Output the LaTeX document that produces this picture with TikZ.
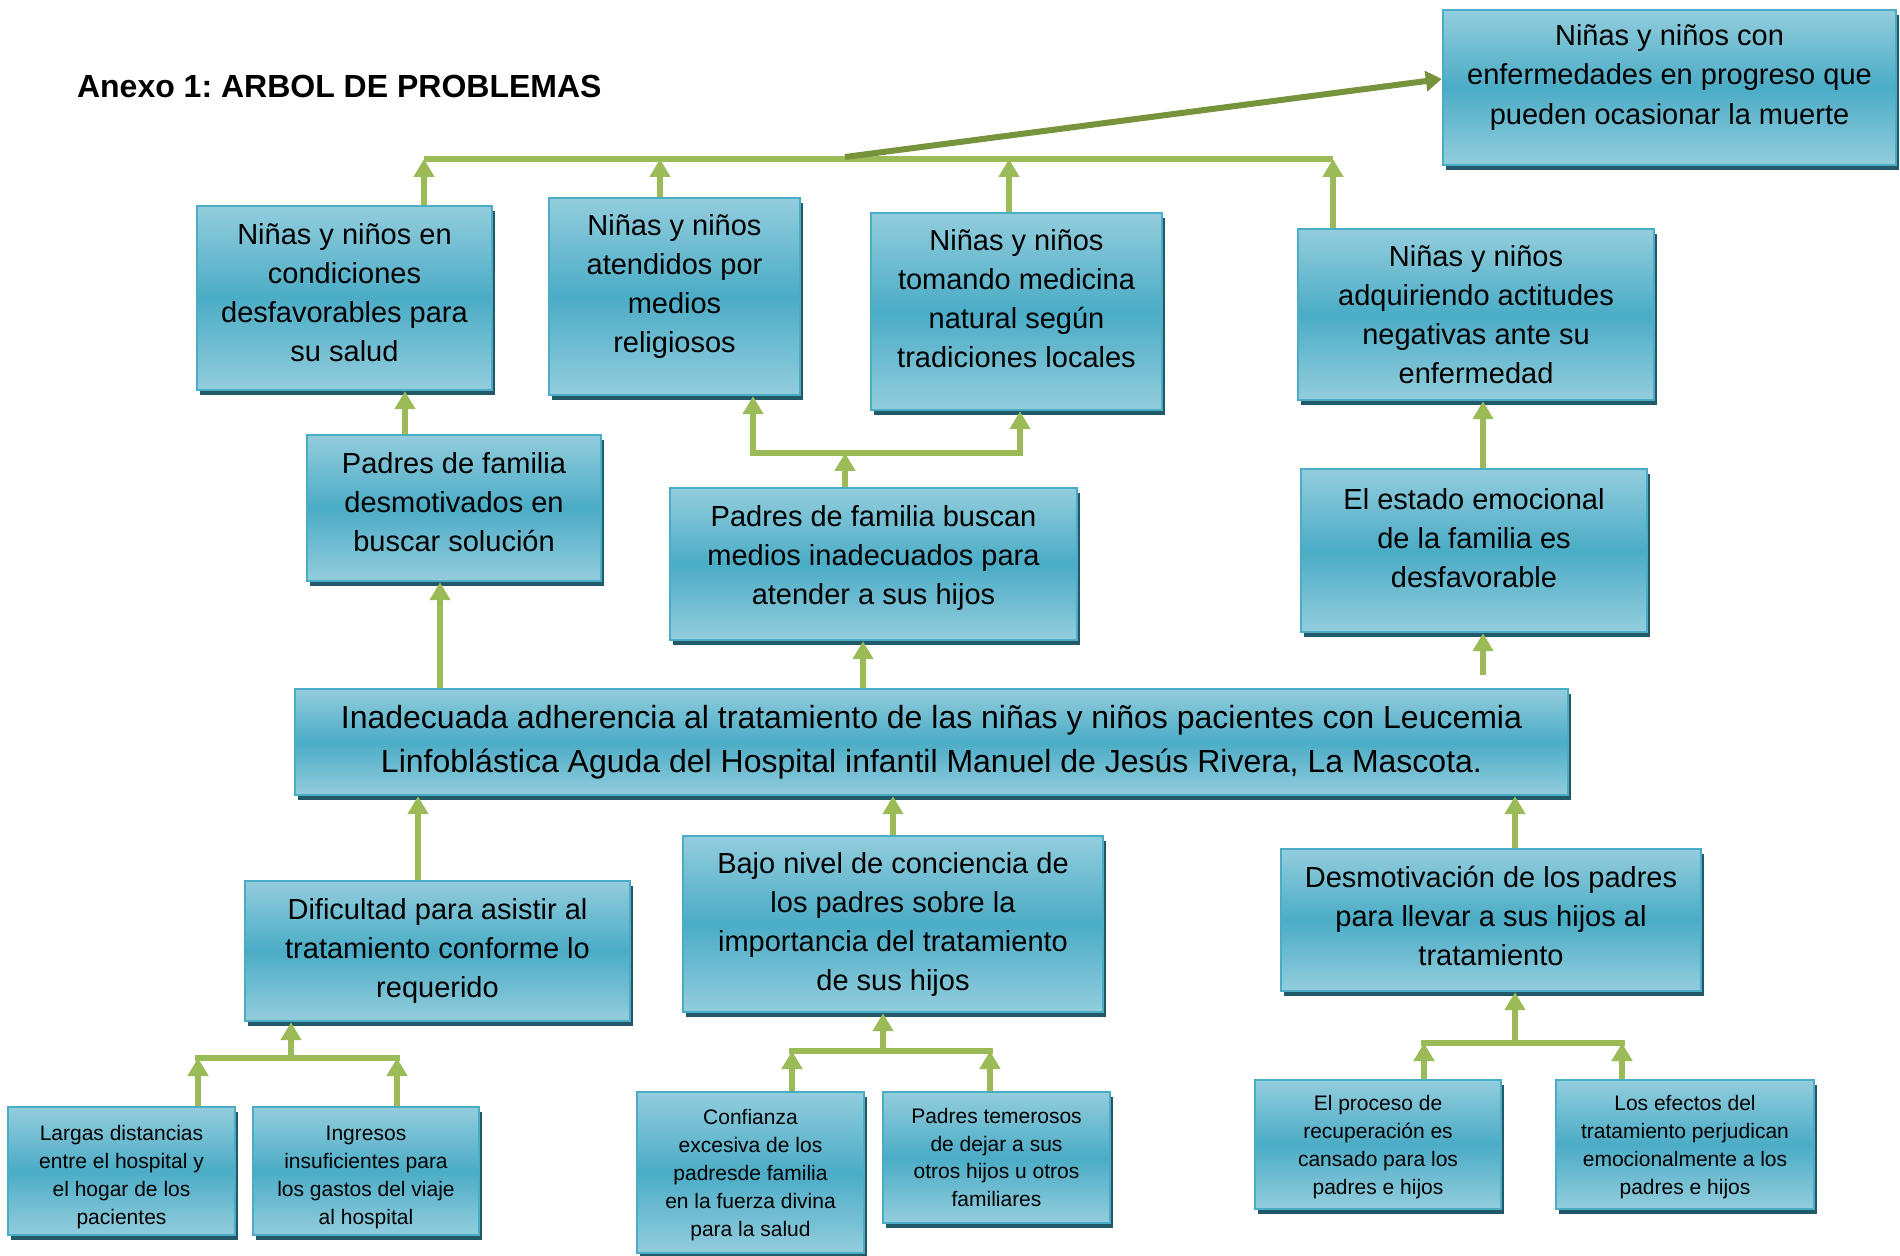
\documentclass[tikz,border=0pt]{standalone}
\usepackage{fontspec}
\setmainfont{Liberation Sans}
\usetikzlibrary{arrows.meta,shadows}
\definecolor{boxtop}{HTML}{93CDDD}
\definecolor{boxmid}{HTML}{4BACC6}
\definecolor{boxedge}{HTML}{4BACC6}
\definecolor{shadowc}{HTML}{215968}
\definecolor{arrgreen}{HTML}{9BBB59}
\definecolor{darkgreen}{HTML}{77933C}
\begin{document}
\frenchspacing
\begin{tikzpicture}[x=0.5pt,y=-0.5pt,
 box/.style={draw=boxedge, line width=1.2pt, top color=boxtop, bottom color=boxtop, middle color=boxmid,
   inner sep=0pt, align=center, text=black,
   drop shadow={shadow xshift=1.5pt, shadow yshift=-2.5pt, fill=shadowc, opacity=1}},
 midtxt/.style={font=\fontsize{14.5}{19.5}\selectfont},
 smalltxt/.style={font=\fontsize{10.5}{13.9}\selectfont},
 bigtxt/.style={font=\fontsize{16}{21.8}\selectfont},
 ln/.style={draw=arrgreen, line width=3pt},
 arr/.style={ln, -{Triangle[width=10pt,length=9pt]}},
 darr/.style={draw=darkgreen, line width=3pt, -{Triangle[width=10pt,length=8pt]}},
]
\useasboundingbox (0,0) rectangle (1900,1256);

\node[anchor=base west, font=\bfseries\fontsize{16}{19}\selectfont] (title) at (70,98) {Anexo 1: ARBOL DE PROBLEMAS};

% effects
\node[box, midtxt, minimum width=226.5pt, minimum height=77.5pt] (B1) at (1669.5,87.5)
  {Niñas y niños con\\enfermedades en progreso que\\pueden ocasionar la muerte\\[-6.5pt]\mbox{}};
\node[box, midtxt, minimum width=147.5pt, minimum height=92pt] (B2) at (344.5,298)
  {Niñas y niños en\\condiciones\\desfavorables para\\su salud\\[-13.5pt]\mbox{}};
\node[box, midtxt, minimum width=125.5pt, minimum height=98.5pt] (B3) at (674.5,296.5)
  {Niñas y niños\\atendidos por\\medios\\religiosos\\[-6.5pt]\mbox{}};
\node[box, midtxt, minimum width=145.5pt, minimum height=98.5pt] (B4) at (1016.5,311.5)
  {Niñas y niños\\tomando medicina\\natural según\\tradiciones locales\\[-6.5pt]\mbox{}};
\node[box, midtxt, minimum width=178pt, minimum height=85.5pt] (B5) at (1476,314.5)
  {Niñas y niños\\adquiriendo actitudes\\negativas ante su\\enfermedad};
\node[box, midtxt, minimum width=147pt, minimum height=73pt] (B6) at (454,508)
  {Padres de familia\\desmotivados en\\buscar solución\\[-13.5pt]\mbox{}};
\node[box, midtxt, minimum width=203.5pt, minimum height=76pt] (B7) at (873.5,564)
  {Padres de familia buscan\\medios inadecuados para\\atender a sus hijos\\[-10.5pt]\mbox{}};
\node[box, midtxt, minimum width=173pt, minimum height=81.5pt] (B8) at (1474,550.5)
  {El estado emocional\\de la familia es\\desfavorable\\[-6.5pt]\mbox{}};

% central problem
\node[box, bigtxt, minimum width=636.5pt, minimum height=53pt] (B9) at (931.5,742)
  {Inadecuada adherencia al tratamiento de las niñas y niños pacientes con Leucemia\\Linfoblástica Aguda del Hospital infantil Manuel de Jesús Rivera, La Mascota.};

% causes
\node[box, midtxt, minimum width=192.5pt, minimum height=70pt] (B10) at (437.5,951)
  {Dificultad para asistir al\\tratamiento conforme lo\\requerido};
\node[box, midtxt, minimum width=210pt, minimum height=88pt] (B11) at (893,924)
  {Bajo nivel de conciencia de\\los padres sobre la\\importancia del tratamiento\\de sus hijos};
\node[box, midtxt, minimum width=210pt, minimum height=71pt] (B12) at (1491,920)
  {Desmotivación de los padres\\para llevar a sus hijos al\\tratamiento\\[-15.5pt]\mbox{}};

\node[box, smalltxt, minimum width=113.5pt, minimum height=64pt] (B13) at (121.5,1171)
  {\mbox{}\\[-0.2pt]Largas distancias\\entre el hospital y\\el hogar de los\\pacientes};
\node[box, smalltxt, minimum width=113pt, minimum height=64pt] (B14) at (366,1171)
  {\mbox{}\\[-0.2pt]Ingresos\\insuficientes para\\los gastos del viaje\\al hospital};
\node[box, smalltxt, minimum width=113.5pt, minimum height=80.5pt] (B15) at (750.5,1172.5)
  {\mbox{}\\[-3.8pt]Confianza\\excesiva de los\\padresde familia\\en la fuerza divina\\para la salud};
\node[box, smalltxt, minimum width=113.5pt, minimum height=65.5pt] (B16) at (996.5,1157.5)
  {Padres temerosos\\de dejar a sus\\otros hijos u otros\\familiares};
\node[box, smalltxt, minimum width=123pt, minimum height=64.5pt] (B17) at (1378,1144.5)
  {\mbox{}\\[-3.8pt]El proceso de\\recuperación es\\cansado para los\\padres e hijos};
\node[box, smalltxt, minimum width=129pt, minimum height=64.5pt] (B18) at (1685,1144.5)
  {\mbox{}\\[-3.8pt]Los efectos del\\tratamiento perjudican\\emocionalmente a los\\padres e hijos};

% ---- connectors: top group
\coordinate (tL) at (424,159);
\coordinate (tR) at (1333,159);
\coordinate (t3) at (660,159);
\coordinate (t4) at (1009,159);
\coordinate (dg) at (845,157);
\draw[ln] (tL) -- (tR);
\draw[arr] (B2.north -| tL) -- (tL);
\draw[arr] (B3.north -| t3) -- (t3);
\draw[arr] (B4.north -| t4) -- (t4);
\draw[arr] (B5.north -| tR) -- (tR);
\draw[darr] (dg) -- ([yshift=4.25pt]B1.west);

% B7 group
\coordinate (mL) at (753,453);
\coordinate (mR) at (1020,453);
\coordinate (mC) at (845,453);
\draw[ln] ([xshift=-1.5pt]mL) -- ([xshift=1.5pt]mR);
\draw[arr] (mL) -- (B3.south -| mL);
\draw[arr] (mR) -- (B4.south -| mR);
\draw[arr] (B7.north -| mC) -- (mC);

% single arrows
\coordinate (c6) at (405,0);
\coordinate (c9a) at (440,0);
\coordinate (c9b) at (863,0);
\coordinate (c8) at (1483,0);
\coordinate (s8) at (1483,675);
\draw[arr] (B6.north -| c6) -- (B2.south -| c6);
\draw[arr] (B9.north -| c9a) -- (B6.south -| c9a);
\draw[arr] (B9.north -| c9b) -- (B7.south -| c9b);
\draw[arr] (B8.north -| c8) -- (B5.south -| c8);
\draw[arr] (s8) -- (B8.south -| s8);

\coordinate (c10) at (418,0);
\coordinate (c11) at (893,0);
\coordinate (c12) at (1515,0);
\draw[arr] (B10.north -| c10) -- (B9.south -| c10);
\draw[arr] (B11.north -| c11) -- (B9.south -| c11);
\draw[arr] (B12.north -| c12) -- (B9.south -| c12);

% bottom-left group
\coordinate (aL) at (198,1058);
\coordinate (aR) at (397,1058);
\coordinate (aC) at (291,1058);
\draw[ln] ([xshift=-1.5pt]aL) -- ([xshift=1.5pt]aR);
\draw[arr] (aC) -- (B10.south -| aC);
\draw[arr] (B13.north -| aL) -- (aL);
\draw[arr] (B14.north -| aR) -- (aR);

% bottom-middle group
\coordinate (bL) at (792,1051);
\coordinate (bR) at (990,1051);
\coordinate (bC) at (883,1051);
\draw[ln] ([xshift=-1.5pt]bL) -- ([xshift=1.5pt]bR);
\draw[arr] (bC) -- (B11.south -| bC);
\draw[arr] (B15.north -| bL) -- (bL);
\draw[arr] (B16.north -| bR) -- (bR);

% bottom-right group
\coordinate (cL) at (1424,1043);
\coordinate (cR) at (1622,1043);
\coordinate (cC) at (1515,1043);
\draw[ln] ([xshift=-1.5pt]cL) -- ([xshift=1.5pt]cR);
\draw[arr] (cC) -- (B12.south -| cC);
\draw[arr] (B17.north -| cL) -- (cL);
\draw[arr] (B18.north -| cR) -- (cR);
\end{tikzpicture}
\end{document}
